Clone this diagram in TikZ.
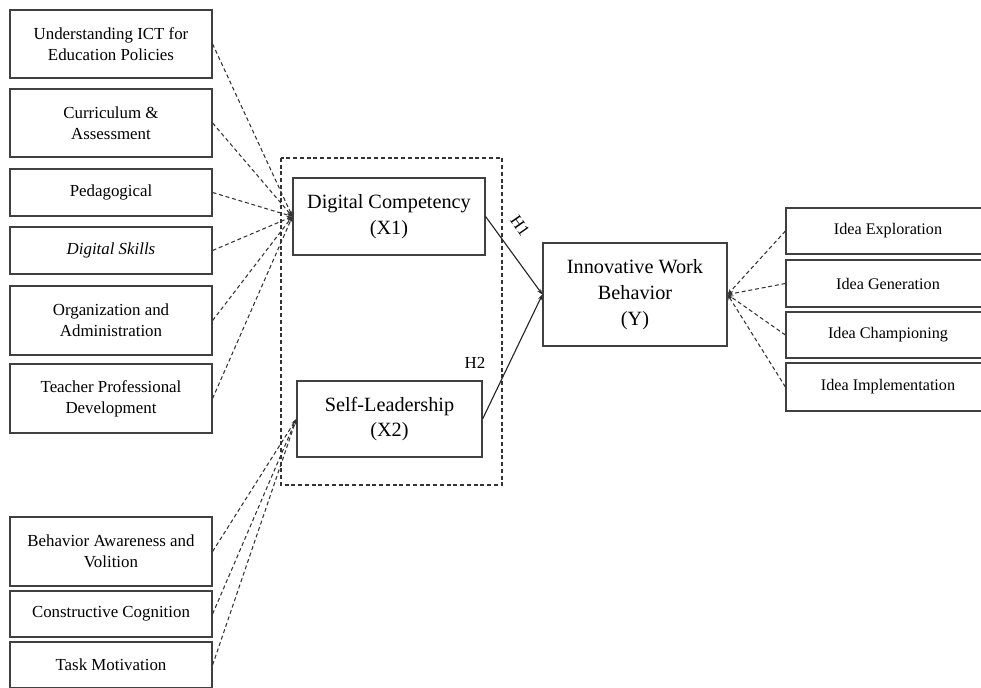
\documentclass[tikz,border=0pt]{standalone}
\usepackage{fontspec}
\setmainfont{Liberation Serif}
\usepackage{xcolor}
\usepackage{tikz}
\usetikzlibrary{arrows.meta}

\begin{document}
\begin{tikzpicture}[x=0.025cm, y=-0.025cm,
    ind/.style={draw=black!75, line width=0.8pt, minimum width=5.05cm, inner sep=0pt,
        align=center, font=\fontsize{12}{15}\selectfont},
    lat/.style={draw=black!75, line width=0.8pt, inner sep=0pt, align=center,
        font=\fontsize{14.4}{18}\selectfont},
    dashline/.style={dash pattern=on 2.8pt off 2pt, line width=0.75pt, black!80},
    tip/.style={-{Stealth[length=4pt,width=3pt]}}]
                \useasboundingbox (0,0) rectangle (981,688);
                % indicators of X1
                \node[ind, minimum height=1.7cm] (ictpol) at (111,44) {Understanding ICT for\\Education Policies};
                \node[ind, minimum height=1.7cm] (curr) at (111,123) {Curriculum \&\\Assessment};
                \node[ind, minimum height=1.175cm] (ped) at (111,192.5) {Pedagogical};
                \node[ind, minimum height=1.175cm] (dskill) at (111,250.5) {\itshape Digital Skills};
                \node[ind, minimum height=1.725cm] (orgadm) at (111,320.5) {Organization and\\Administration};
                \node[ind, minimum height=1.725cm] (tpd) at (111,398.5) {Teacher Professional\\Development};
                % indicators of X2
                \node[ind, minimum height=1.725cm] (bav) at (111,551.5) {Behavior Awareness and\\Volition};
                \node[ind, minimum height=1.15cm] (ccog) at (111,614) {Constructive Cognition};
                \node[ind, minimum height=1.15cm] (tmot) at (111,665) {Task Motivation};
                % latent variables
                \draw[dashline] (281,158) rectangle (502,485);
                \node[lat, minimum width=4.8cm, minimum height=1.925cm] (dc) at (389,216.5) {Digital Competency\\(X1)};
                \node[lat, minimum width=4.625cm, minimum height=1.9cm] (sl) at (389.5,419) {Self-Leadership\\(X2)};
                \node[lat, minimum width=4.6cm, minimum height=2.575cm, font=\fontsize{14.4}{18.5}\selectfont] (iwb) at (635,294.5) {Innovative Work\\Behavior\\(Y)};
                % indicators of Y
                \node[ind, minimum width=5.1cm, minimum height=1.15cm, font=\fontsize{11.5}{14}\selectfont] (iexp) at (888,231) {Idea Exploration};
                \node[ind, minimum width=5.1cm, minimum height=1.175cm, font=\fontsize{11.5}{14}\selectfont] (igen) at (888,283.5) {Idea Generation};
                \node[ind, minimum width=5.1cm, minimum height=1.15cm, font=\fontsize{11.5}{14}\selectfont] (ichamp) at (888,335) {Idea Championing};
                \node[ind, minimum width=5.1cm, minimum height=1.2cm, font=\fontsize{11.5}{14}\selectfont] (iimpl) at (888,387) {Idea Implementation};
                % connectors
                \foreach \n in {ictpol,curr,ped,dskill,orgadm,tpd}
                    \draw[dashline, tip] (\n.east) -- (dc.west);
                \foreach \n in {bav,ccog,tmot}
                    \draw[dashline, tip] (\n.east) -- (sl.west);
                \foreach \n in {iexp,igen,ichamp,iimpl}
                    \draw[dashline, tip] (\n.west) -- (iwb.east);
                \draw[tip, line width=0.8pt, black!85] (dc.east) -- (iwb.west);
                \draw[tip, line width=0.8pt, black!85] (sl.east) -- (iwb.west);
                \node[rotate=-55, font=\fontsize{12}{14}\selectfont] (hone) at (520,226) {H1};
                \node[font=\fontsize{12}{14}\selectfont] (htwo) at (475,363) {H2};
            \end{tikzpicture}
\end{document}
